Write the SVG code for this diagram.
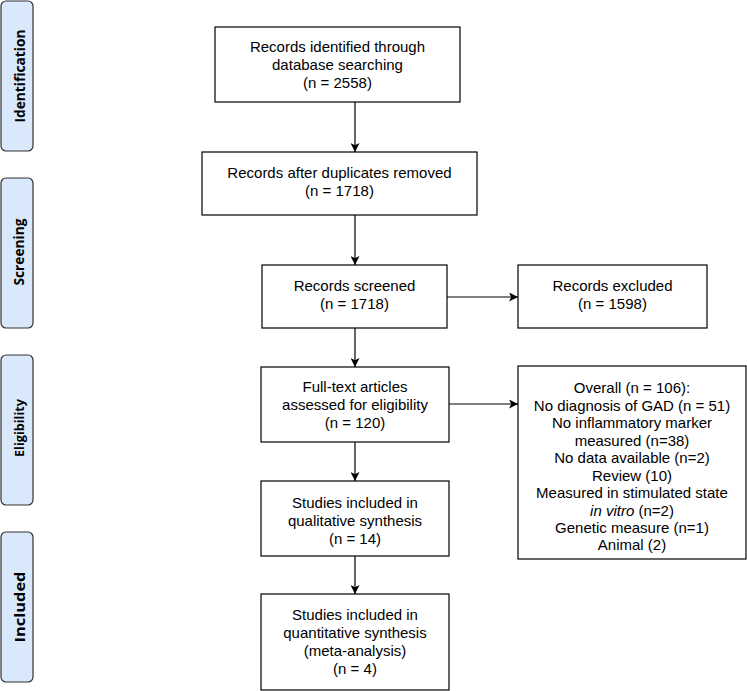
<svg xmlns="http://www.w3.org/2000/svg" width="747" height="691" viewBox="0 0 747 691">
<style>
.phase{fill:#dae8fc;stroke:#333;stroke-width:1.2}
.ptxt{font-family:"Open Sans","DejaVu Sans",sans-serif;font-weight:bold;fill:#000;text-anchor:middle;dominant-baseline:central}
.box{fill:#fff;stroke:#000;stroke-width:1.2}
.t{font-family:"Liberation Sans",Arial,sans-serif;font-size:15px;fill:#000;text-anchor:middle}
.c{fill:none;stroke:#000;stroke-width:1.2}
</style>
<defs>
<marker id="ah" viewBox="0 0 10 10" refX="10" refY="5" markerWidth="9" markerHeight="9" markerUnits="userSpaceOnUse" orient="auto">
<path d="M0,0 L10,5 L0,10 L2.5,5 z" fill="#000"/>
</marker>
</defs>
<rect x="0" y="0" width="747" height="691" fill="#fff"/>

<g id="phase-identification">
<rect class="phase" x="1" y="1" width="32" height="150" rx="5"/>
<text class="ptxt" font-size="14" textLength="93" lengthAdjust="spacingAndGlyphs" transform="translate(19,76) rotate(-90)">Identification</text>
</g>
<g id="phase-screening">
<rect class="phase" x="1" y="178" width="32" height="150" rx="5"/>
<text class="ptxt" font-size="13.5" textLength="67" lengthAdjust="spacingAndGlyphs" transform="translate(19,252) rotate(-90)">Screening</text>
</g>
<g id="phase-eligibility">
<rect class="phase" x="1" y="355" width="32" height="150" rx="5"/>
<text class="ptxt" font-size="12.5" textLength="58" lengthAdjust="spacingAndGlyphs" transform="translate(19,428) rotate(-90)">Eligibility</text>
</g>
<g id="phase-included">
<rect class="phase" x="1" y="532" width="32" height="150" rx="5"/>
<text class="ptxt" font-size="15" textLength="71" lengthAdjust="spacingAndGlyphs" transform="translate(19,607) rotate(-90)">Included</text>
</g>

<g id="connectors">
<line class="c" x1="355" y1="102" x2="355" y2="152" marker-end="url(#ah)"/>
<line class="c" x1="355" y1="215" x2="355" y2="265" marker-end="url(#ah)"/>
<line class="c" x1="355" y1="328" x2="355" y2="367" marker-end="url(#ah)"/>
<line class="c" x1="355" y1="442" x2="355" y2="481" marker-end="url(#ah)"/>
<line class="c" x1="355" y1="556" x2="355" y2="594" marker-end="url(#ah)"/>
<line class="c" x1="447" y1="297" x2="518" y2="297" marker-end="url(#ah)"/>
<line class="c" x1="449" y1="404" x2="518" y2="404" marker-end="url(#ah)"/>
</g>

<g id="identified">
<rect class="box" x="215" y="27" width="245" height="75"/>
<text class="t" x="337.5" y="52">Records identified through</text>
<text class="t" x="337.5" y="70">database searching</text>
<text class="t" x="337.5" y="88">(n = 2558)</text>
</g>
<g id="deduplicated">
<rect class="box" x="202" y="152" width="275" height="63"/>
<text class="t" x="339.5" y="178">Records after duplicates removed</text>
<text class="t" x="339.5" y="196">(n = 1718)</text>
</g>
<g id="screened">
<rect class="box" x="262" y="265" width="185" height="63"/>
<text class="t" x="354.5" y="291">Records screened</text>
<text class="t" x="354.5" y="309">(n = 1718)</text>
</g>
<g id="excluded">
<rect class="box" x="518" y="265" width="189" height="63"/>
<text class="t" x="612.5" y="291">Records excluded</text>
<text class="t" x="612.5" y="309">(n = 1598)</text>
</g>
<g id="fulltext">
<rect class="box" x="261" y="367" width="188" height="75"/>
<text class="t" x="355" y="392">Full-text articles</text>
<text class="t" x="355" y="410">assessed for eligibility</text>
<text class="t" x="355" y="428">(n = 120)</text>
</g>
<g id="fulltext-excluded">
<rect class="box" x="518" y="366" width="228" height="193"/>
<text class="t" x="632" y="393.4">Overall (n = 106):</text>
<text class="t" x="632" y="410.8">No diagnosis of GAD (n = 51)</text>
<text class="t" x="632" y="428.3">No inflammatory marker</text>
<text class="t" x="632" y="445.7">measured (n=38)</text>
<text class="t" x="632" y="463.2">No data available (n=2)</text>
<text class="t" x="632" y="480.6">Review (10)</text>
<text class="t" x="632" y="498">Measured in stimulated state</text>
<text class="t" x="632" y="515.5"><tspan font-style="italic">in vitro</tspan> (n=2)</text>
<text class="t" x="632" y="532.9">Genetic measure (n=1)</text>
<text class="t" x="632" y="550.4">Animal (2)</text>
</g>
<g id="qualitative">
<rect class="box" x="261" y="481" width="188" height="75"/>
<text class="t" x="355" y="508">Studies included in</text>
<text class="t" x="355" y="526">qualitative synthesis</text>
<text class="t" x="355" y="544">(n = 14)</text>
</g>
<g id="quantitative">
<rect class="box" x="261" y="594" width="188" height="96"/>
<text class="t" x="355" y="620">Studies included in</text>
<text class="t" x="355" y="638">quantitative synthesis</text>
<text class="t" x="355" y="656">(meta-analysis)</text>
<text class="t" x="355" y="674">(n = 4)</text>
</g>
</svg>
